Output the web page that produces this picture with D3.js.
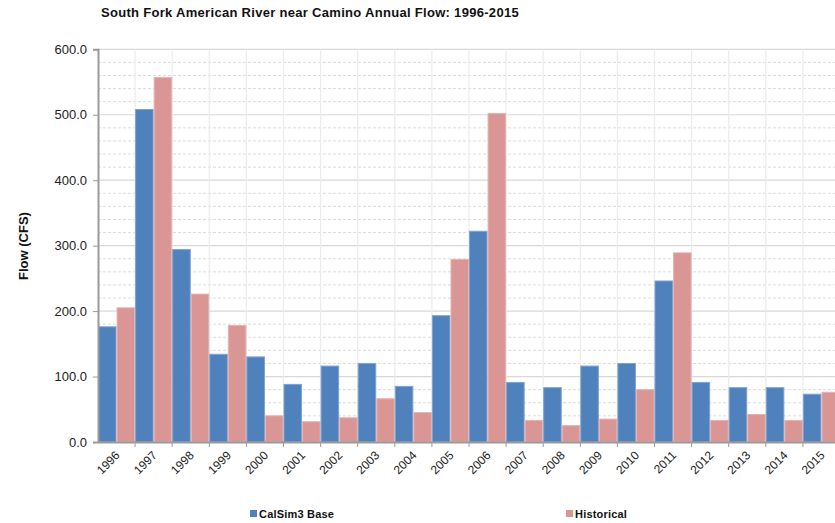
<!DOCTYPE html>
<html>
<head>
<meta charset="utf-8">
<script src="https://cdn.jsdelivr.net/npm/d3@7/dist/d3.min.js"></script>
<style>
  html, body { margin: 0; padding: 0; background: #fff; }
  svg { display: block; font-family: "Liberation Sans", Arial, sans-serif; }
</style>
</head>
<body>
<svg id="chart" width="835" height="523"></svg>
<script>
// Annual flow (CFS), water years 1996-2015
const years = ["1996","1997","1998","1999","2000","2001","2002","2003","2004","2005",
               "2006","2007","2008","2009","2010","2011","2012","2013","2014","2015"];
const calsimBase = [176, 508, 294, 134, 130, 88, 116, 120, 85, 193,
                    322, 91, 83, 116, 120, 246, 91, 83, 83, 73];
const historical = [205, 557, 226, 178, 40, 31, 37, 66, 45, 279,
                    502, 33, 25, 35, 80, 289, 33, 42, 33, 76];
const seriesNames = ["CalSim3 Base", "Historical"];
const seriesColors = ["#4F81BD", "#D99694"];
const seriesStrokes = ["#7FA2CE", "#E6B3B2"];
const yTicks = [0, 100, 200, 300, 400, 500, 600];

const svg = d3.select("#chart");
const plotLeft = 98, plotRight = 840, plotTop = 49.3, plotBottom = 442;

const x = d3.scaleBand().domain(years).range([plotLeft, plotRight]).padding(0);
const xs = d3.scaleBand().domain(seriesNames).range([0, x.bandwidth()]).padding(0);
const y = d3.scaleLinear().domain([0, 600]).range([plotBottom, plotTop]);

// Title
svg.append("text")
  .attr("x", 101).attr("y", 17)
  .attr("font-size", 13).attr("font-weight", "bold").attr("fill", "#111")
  .attr("letter-spacing", 0.3)
  .text("South Fork American River near Camino Annual Flow: 1996-2015");

// Grid: minor dashed lines every 20, major solid every 100
const grid = svg.append("g");
grid.selectAll("line.minor")
  .data(d3.range(20, 600, 20).filter(v => v % 100 !== 0))
  .join("line")
  .attr("x1", plotLeft).attr("x2", plotRight)
  .attr("y1", d => y(d)).attr("y2", d => y(d))
  .attr("stroke", "#dcdcdc").attr("stroke-dasharray", "3,2");
grid.selectAll("line.major")
  .data(yTicks.filter(v => v > 0))
  .join("line")
  .attr("x1", plotLeft).attr("x2", plotRight)
  .attr("y1", d => y(d)).attr("y2", d => y(d))
  .attr("stroke", "#d8d8d8").attr("stroke-width", 1.2);
grid.selectAll("line.vert")
  .data(years.slice(1))
  .join("line")
  .attr("x1", d => x(d)).attr("x2", d => x(d))
  .attr("y1", plotTop).attr("y2", plotBottom)
  .attr("stroke", "#ececec").attr("stroke-width", 1.2);

// Bars
const groups = svg.append("g").selectAll("g")
  .data(years.map((yr, i) => ({ yr, vals: [calsimBase[i], historical[i]] })))
  .join("g")
  .attr("transform", d => `translate(${x(d.yr)},0)`);
groups.selectAll("rect")
  .data(d => d.vals.map((v, k) => ({ v, k })))
  .join("rect")
  .attr("x", d => xs(seriesNames[d.k]) + 0.5)
  .attr("width", xs.bandwidth() - 1)
  .attr("y", d => y(d.v))
  .attr("height", d => plotBottom - y(d.v))
  .attr("fill", d => seriesColors[d.k])
  .attr("stroke", d => seriesStrokes[d.k])
  .attr("stroke-width", 1);

// Y axis
const yAxis = svg.append("g")
  .attr("transform", `translate(${plotLeft},0)`)
  .call(d3.axisLeft(y).tickValues(yTicks).tickFormat(d3.format(".1f")).tickSize(5).tickPadding(6));
yAxis.select(".domain").attr("stroke", "#9a9a9a").attr("stroke-width", 2);
yAxis.selectAll(".tick line").attr("stroke", "#9a9a9a");
yAxis.selectAll(".tick text")
  .attr("font-size", 13).attr("fill", "#222")
  .attr("font-family", "Liberation Sans, Arial, sans-serif");

// X axis
const xAxis = svg.append("g")
  .attr("transform", `translate(0,${plotBottom})`)
  .call(d3.axisBottom(x).tickSize(0).tickFormat(""));
xAxis.select(".domain").attr("stroke", "#9a9a9a").attr("stroke-width", 2);
xAxis.selectAll(".tick").remove();
xAxis.selectAll("line.bound")
  .data(years.slice(1))
  .join("line")
  .attr("x1", d => x(d)).attr("x2", d => x(d))
  .attr("y1", 0).attr("y2", 5)
  .attr("stroke", "#9a9a9a");
xAxis.selectAll("text.lbl")
  .data(years)
  .join("text")
  .attr("transform", d => `translate(${x(d) + x.bandwidth() / 2 + 4},${14}) rotate(-45)`)
  .attr("text-anchor", "end")
  .attr("font-size", 12).attr("fill", "#222")
  .text(d => d);

// Y axis title
svg.append("text")
  .attr("transform", "translate(28,246) rotate(-90)")
  .attr("text-anchor", "middle")
  .attr("font-size", 13).attr("font-weight", "bold").attr("fill", "#111")
  .text("Flow (CFS)");

// Legend
const legendX = [250, 566];
const legend = svg.append("g").selectAll("g")
  .data(seriesNames)
  .join("g")
  .attr("transform", (d, i) => `translate(${legendX[i]},510)`);
legend.append("rect")
  .attr("width", 7).attr("height", 7)
  .attr("fill", (d, i) => seriesColors[i]);
legend.append("text")
  .attr("x", 9).attr("y", 7.5)
  .attr("font-size", 11).attr("font-weight", "bold").attr("fill", "#111")
  .attr("letter-spacing", 0.2)
  .text(d => d);
</script>
</body>
</html>
